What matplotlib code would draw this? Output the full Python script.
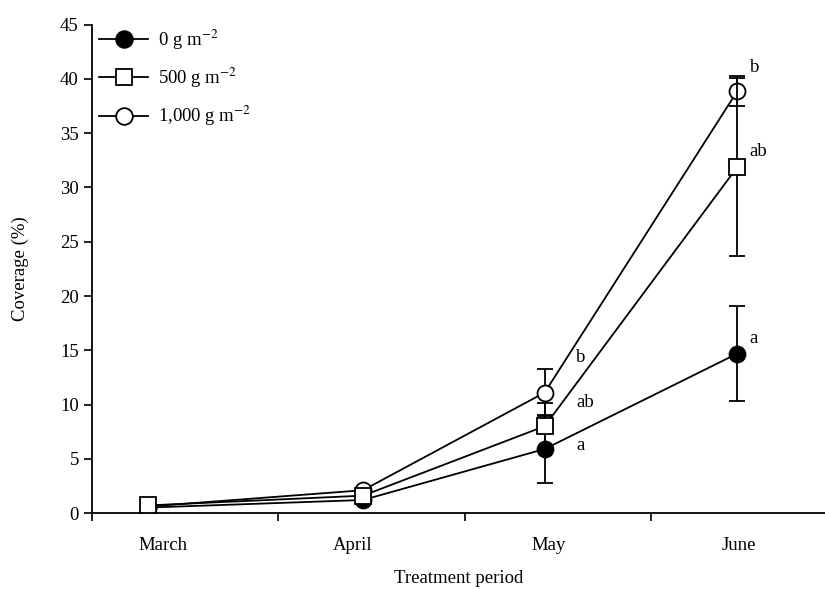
import matplotlib
matplotlib.use("Agg")
import matplotlib.pyplot as plt
from matplotlib.lines import Line2D

plt.rcParams['font.family'] = ['Liberation Serif', 'DejaVu Serif']
plt.rcParams['mathtext.fontset'] = 'stix'

# sampling positions along the treatment period (category boundaries at 0,1,2,3)
months = ["March", "April", "May", "June"]
month_x = [0.30, 1.455, 2.43, 3.465]
label_x = [0.38, 1.40, 2.45, 3.47]

cov_0 = [0.5, 1.2, 5.9, 14.7]
err_0 = [0.0, 0.1, 3.1, 4.4]
cov_500 = [0.7, 1.6, 8.0, 31.9]
err_500 = [0.1, 0.1, 2.1, 8.2]
cov_1000 = [0.6, 2.1, 11.1, 38.9]
err_1000 = [0.1, 0.1, 2.2, 1.4]

letters_may = ["a", "ab", "b"]
letters_may_y = [6.2, 10.2, 14.3]
letters_june = ["a", "ab", "b"]
letters_june_y = [16.1, 33.3, 41.1]

fs = 13.5

fig = plt.figure(figsize=(8.25, 5.89), dpi=100)
ax = fig.add_axes([0.1115, 0.129, 0.8885, 0.829])

kw = dict(color='black', lw=1.3, capsize=6, capthick=1.3, elinewidth=1.3,
          markersize=11.5, markeredgewidth=1.3)
ax.errorbar(month_x, cov_0, yerr=err_0, marker='o', mfc='black', mec='black',
            zorder=3, **kw)
ax.errorbar(month_x, cov_1000, yerr=err_1000, marker='o', mfc='white', mec='black',
            zorder=4, **kw)
ax.errorbar(month_x, cov_500, yerr=err_500, marker='s', mfc='white', mec='black',
            zorder=5, **kw)

for t, y in zip(letters_may, letters_may_y):
    ax.text(2.60, y, t, fontsize=fs, ha='left', va='center')
for t, y in zip(letters_june, letters_june_y):
    ax.text(3.53, y, t, fontsize=fs, ha='left', va='center')

ax.set_xlim(0, 3.935)
ax.set_ylim(0, 45)
ax.set_yticks(range(0, 46, 5))
ax.set_xticks([0, 1, 2, 3])
ax.set_xticklabels([])
ax.set_xticks(label_x, minor=True)
ax.set_xticklabels(months, minor=True, fontsize=fs)
ax.tick_params(axis='x', which='minor', length=0, pad=17)
ax.tick_params(axis='both', which='major', direction='out', length=6,
               width=1.2, labelsize=fs)
ax.spines['top'].set_visible(False)
ax.spines['right'].set_visible(False)
ax.spines['left'].set_linewidth(1.3)
ax.spines['bottom'].set_linewidth(1.3)

ax.set_xlabel('Treatment period', fontsize=fs, labelpad=12)
ax.set_ylabel('Coverage (%)', fontsize=fs, labelpad=22)

handles = [
    Line2D([], [], color='black', lw=1.3, marker='o', mfc='black', mec='black',
           markersize=12, markeredgewidth=1.3),
    Line2D([], [], color='black', lw=1.3, marker='s', mfc='white', mec='black',
           markersize=12, markeredgewidth=1.3),
    Line2D([], [], color='black', lw=1.3, marker='o', mfc='white', mec='black',
           markersize=12, markeredgewidth=1.3),
]
labels = [r'0 g m$^{-2}$', r'500 g m$^{-2}$', r'1,000 g m$^{-2}$']
ax.legend(handles, labels, loc='upper left', frameon=False, fontsize=fs,
          handlelength=2.6, borderaxespad=0.0, labelspacing=0.75,
          handletextpad=0.5, bbox_to_anchor=(0.0, 1.01))

fig.savefig("out.png", dpi=100)
